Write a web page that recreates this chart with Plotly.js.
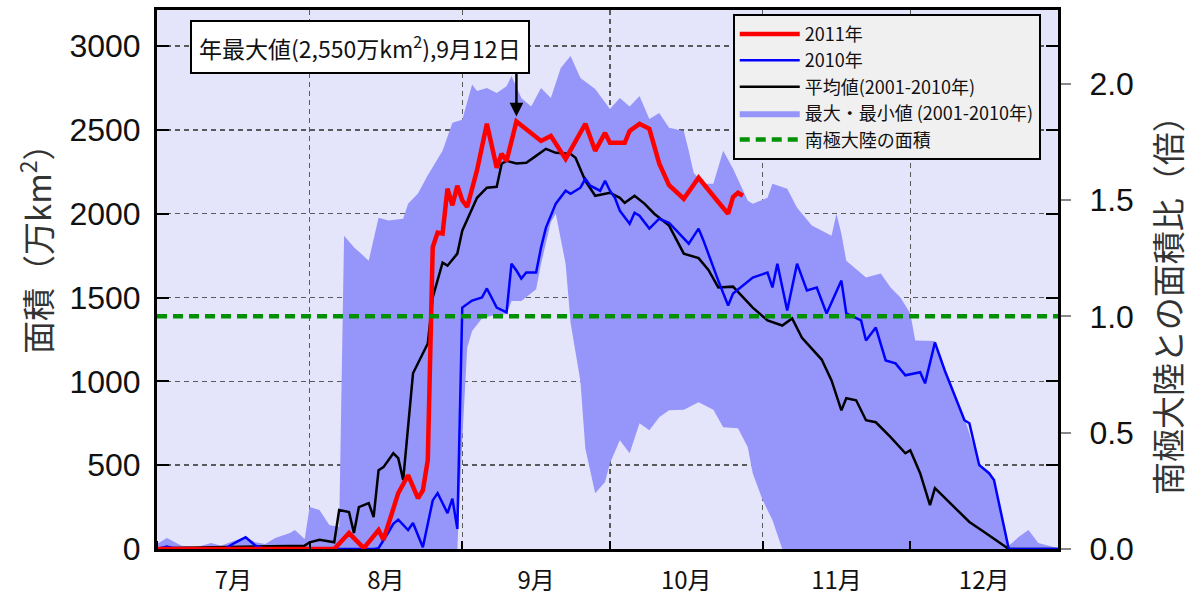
<!DOCTYPE html>
<html>
<head>
<meta charset="utf-8">
<script src="https://cdn.plot.ly/plotly-3.0.1.min.js"></script>
<style>html,body{margin:0;padding:0;background:#fff;}</style>
</head>
<body>
<div id="chart" style="width:1199px;height:603px;"></div>
<script>
const YEAR = '2011-';

// 2011年
const red2011Dates = ['07-01','08-06','08-09','08-12','08-15','08-16','08-19','08-21','08-23','08-24','08-25','08-26','08-27','08-28','08-29','08-30','08-31','09-01','09-02','09-04','09-06','09-08','09-09','09-10','09-12','09-14','09-17','09-19','09-22','09-26','09-28','09-30','10-01','10-04','10-05','10-07','10-09','10-11','10-13','10-16','10-19','10-23','10-25','10-26','10-27','10-28'];
const red2011Vals  = [0,0,95,5,113,55,333,440,303,350,530,1800,1887,1881,2149,2050,2167,2080,2040,2260,2536,2274,2357,2315,2550,2506,2434,2464,2327,2536,2375,2482,2423,2423,2494,2536,2506,2300,2170,2089,2214,2070,2000,2100,2125,2107];

// 2010年
const blue2010Dates = ['07-01','07-03','07-05','07-15','07-17','07-19','07-21','07-23','08-14','08-15','08-17','08-18','08-19','08-21','08-22','08-24','08-26','08-27','08-29','08-30','08-31','09-01','09-03','09-05','09-06','09-07','09-08','09-10','09-11','09-12','09-13','09-14','09-16','09-17','09-18','09-20','09-22','09-23','09-25','09-26','09-27','09-29','09-30','10-01','10-02','10-03','10-05','10-06','10-07','10-09','10-11','10-13','10-16','10-17','10-19','10-20','10-23','10-25','10-26','10-28','10-30','11-02','11-03','11-04','11-06','11-08','11-10','11-12','11-14','11-17','11-18','11-21','11-22','11-24','11-26','11-28','11-30','12-03','12-04','12-06','12-08','12-10','12-12','12-13','12-15','12-17','12-18','12-21','12-31'];
const blue2010Vals  = [0,15,0,5,40,70,20,0,0,5,100,150,175,113,155,10,290,333,214,300,120,1440,1482,1500,1554,1500,1440,1411,1702,1661,1613,1649,1649,1798,1917,2060,2137,2119,2155,2208,2167,2137,2196,2137,2095,2018,1940,2006,1988,1911,1970,1946,1851,1821,1911,1839,1601,1452,1524,1571,1619,1649,1560,1702,1423,1702,1542,1560,1405,1601,1405,1363,1244,1321,1125,1107,1036,1054,988,1232,1065,917,768,750,500,452,411,0,0];

// 平均値(2001-2010年)
const avgDates = ['07-01','07-15','07-31','08-01','08-03','08-06','08-07','08-09','08-10','08-11','08-13','08-14','08-15','08-16','08-18','08-19','08-20','08-22','08-25','08-26','08-28','08-29','08-31','09-01','09-03','09-04','09-06','09-08','09-09','09-10','09-12','09-14','09-16','09-18','09-20','09-23','09-24','09-26','09-28','09-30','10-01','10-03','10-04','10-06','10-08','10-10','10-13','10-16','10-19','10-21','10-23','10-26','10-28','10-30','11-02','11-05','11-07','11-09','11-13','11-15','11-17','11-18','11-20','11-22','11-24','11-27','11-30','12-01','12-03','12-05','12-06','12-08','12-11','12-13','12-16','12-19','12-21','12-31'];
const avgVals  = [5,10,20,40,55,40,232,220,95,250,274,190,470,488,571,542,411,1048,1226,1500,1708,1690,1762,1899,2036,2095,2155,2160,2298,2315,2300,2304,2345,2387,2363,2357,2333,2196,2107,2119,2125,2095,2065,2107,2060,2000,1929,1762,1735,1665,1560,1565,1500,1440,1363,1333,1375,1260,1130,1006,827,899,887,768,756,667,571,589,452,262,363,304,214,161,101,42,0,0];

// 最大・最小値(2001-2010年)
const maxDates = ['07-01','07-03','07-06','07-09','07-12','07-14','07-16','07-19','07-21','07-23','07-25','07-28','07-29','07-31','08-01','08-03','08-05','08-07','08-08','08-10','08-13','08-15','08-17','08-20','08-21','08-23','08-25','08-27','08-28','08-30','09-01','09-03','09-04','09-06','09-08','09-10','09-11','09-13','09-15','09-17','09-19','09-21','09-23','09-25','09-28','10-01','10-03','10-05','10-07','10-09','10-11','10-13','10-16','10-17','10-18','10-20','10-22','10-24','10-26','10-29','10-30','11-02','11-03','11-06','11-08','11-11','11-15','11-16','11-17','11-18','11-22','11-25','11-27','11-29','12-01','12-02','12-06','12-08','12-10','12-12','12-15','12-17','12-18','12-21','12-23','12-25','12-27','12-31'];
const maxVals  = [30,65,20,10,36,20,42,71,40,30,65,95,113,60,250,232,143,131,1869,1800,1720,1976,1960,1970,2060,2120,2230,2330,2375,2542,2560,2770,2732,2750,2720,2760,2821,2690,2640,2750,2690,2869,2940,2810,2744,2625,2690,2640,2702,2565,2601,2512,2494,2375,2244,2179,2179,2375,2268,2077,2060,2095,2179,2149,2036,1929,1869,2000,1880,1720,1619,1643,1560,1500,1405,1244,1240,1070,930,780,510,460,415,20,71,113,36,5];
const minDates = ['07-01','08-31','09-01','09-02','09-03','09-05','09-08','09-10','09-11','09-13','09-16','09-17','09-19','09-20','09-22','09-23','09-25','09-26','09-28','09-30','10-01','10-03','10-05','10-07','10-09','10-11','10-13','10-16','10-19','10-22','10-24','10-27','10-29','10-30','11-01','11-03','11-05','12-31'];
const minVals  = [0,0,650,1200,1300,1375,1400,1400,1480,1480,1550,1700,1950,2000,1700,1350,1000,600,333,400,512,649,571,750,708,786,827,830,875,830,726,720,607,452,292,173,0,0];

// 南極大陸の面積 (万km²) と面積比
const antarcticArea = 1388;
const antarcticDates = ['07-01','12-31'];
const antarcticVals = [antarcticArea, antarcticArea];

// axes
const yTicks = [0,500,1000,1500,2000,2500,3000];
const yMax = 3215;
const ratioTicks = [0,0.5,1.0,1.5,2.0];
const ratioLabels = ['0.0','0.5','1.0','1.5','2.0'];
const leftTitle = '面積（万km<sup>2</sup>）';
const rightTitle = '南極大陸との面積比（倍）';

// peak annotation
const peakDate = '09-12';
const peakVal = 2550;
const peakLabel = '年最大値(2,550万km<sup>2</sup>),9月12日';

const toX = a => a.map(d => YEAR + d);

const traces = [
  {x: toX(minDates), y: minVals, mode:'lines', line:{width:0, color:'#9696fa'}, showlegend:false, hoverinfo:'skip'},
  {x: toX(maxDates), y: maxVals, mode:'lines', fill:'tonexty', fillcolor:'#9696fa', line:{width:0, color:'#9696fa'}, name:'最大・最小値 (2001-2010年)', legendrank:4},
  {x: toX(antarcticDates), y: antarcticVals.map(v => v / antarcticArea), yaxis:'y2', mode:'lines', line:{color:'#009100', width:4.5, dash:'10px,6px'}, name:'南極大陸の面積', legendrank:5},
  {x: toX(avgDates), y: avgVals, mode:'lines', line:{color:'#000', width:2.5}, name:'平均値(2001-2010年)', legendrank:3},
  {x: toX(blue2010Dates), y: blue2010Vals, mode:'lines', line:{color:'#0000ff', width:2.5}, name:'2010年', legendrank:2},
  {x: toX(red2011Dates), y: red2011Vals, mode:'lines', line:{color:'#ff0000', width:4.5}, name:'2011年', legendrank:1}
];

const gridColor = '#5a5a5a';
const titleFont = {family:'Noto Sans CJK JP', size:33, color:'#333'};
const layout = {
  width:1199, height:603,
  margin:{l:157, r:141, t:10, b:54},
  paper_bgcolor:'#ffffff',
  plot_bgcolor:'#e4e4fa',
  showlegend:true,
  legend:{x:0.639, y:0.993, xanchor:'left', yanchor:'top', bgcolor:'#f0f0f0', bordercolor:'#000', borderwidth:2,
    traceorder:'normal', font:{family:'Noto Sans CJK JP', size:18, color:'#111'}, itemwidth:60, tracegroupgap:0},
  xaxis:{type:'date', range:[YEAR+'07-01', YEAR+'12-31'], dtick:'M1', tick0:YEAR+'07-01', ticklabelmode:'period', tickformat:'%-m月',
    showgrid:true, gridcolor:gridColor, gridwidth:1.5, griddash:'5px,4px',
    ticks:'inside', ticklen:8, tickwidth:2, tickcolor:'#000',
    showline:true, linecolor:'#000', linewidth:3, mirror:true, zeroline:false,
    tickfont:{family:'Noto Sans CJK JP', size:24, color:'#111'}, ticklabelstandoff:8},
  yaxis:{range:[0,yMax], tickvals:yTicks, ticks:'inside', ticklen:12, tickwidth:2, tickcolor:'#000',
    showline:true, linecolor:'#000', linewidth:3, mirror:'ticks', zeroline:false,
    showgrid:true, gridcolor:gridColor, gridwidth:1.5, griddash:'5px,4px',
    tickfont:{family:'Liberation Sans', size:32, color:'#111'}, ticklabelstandoff:7},
  yaxis2:{overlaying:'y', side:'right', anchor:'x', range:[0, yMax/antarcticArea], tickvals:ratioTicks, ticktext:ratioLabels,
    ticks:'outside', ticklen:10, tickwidth:2, tickcolor:'#888', showgrid:false, zeroline:false,
    showline:true, linecolor:'#000', linewidth:3,
    tickfont:{family:'Liberation Sans', size:32, color:'#111'}, ticklabelstandoff:12},
  annotations:[
    {xref:'x', yref:'y', x:YEAR+peakDate, y:peakVal, text:'', showarrow:true, ax:0, ay:-50, arrowhead:2, arrowsize:1.1, arrowwidth:2.5, arrowcolor:'#000', standoff:5},
    {xref:'paper', yref:'paper', x:0.2253, y:0.931, xanchor:'center', yanchor:'middle', text:peakLabel, showarrow:false,
     bgcolor:'#fff', bordercolor:'#000', borderwidth:2, borderpad:7, font:{family:'Noto Sans CJK JP', size:23, color:'#111'}},
    {xref:'paper', yref:'paper', x:(35-157)/901, y:(549-240)/539, xanchor:'center', yanchor:'middle', textangle:-90,
     text:leftTitle, showarrow:false, font:titleFont},
    {xref:'paper', yref:'paper', x:(1167-157)/901, y:(549-297)/539, xanchor:'center', yanchor:'middle', textangle:-90,
     text:rightTitle, showarrow:false, font:titleFont}
  ]
};

Plotly.newPlot('chart', traces, layout, {displayModeBar:false, staticPlot:true});
</script>
</body>
</html>
